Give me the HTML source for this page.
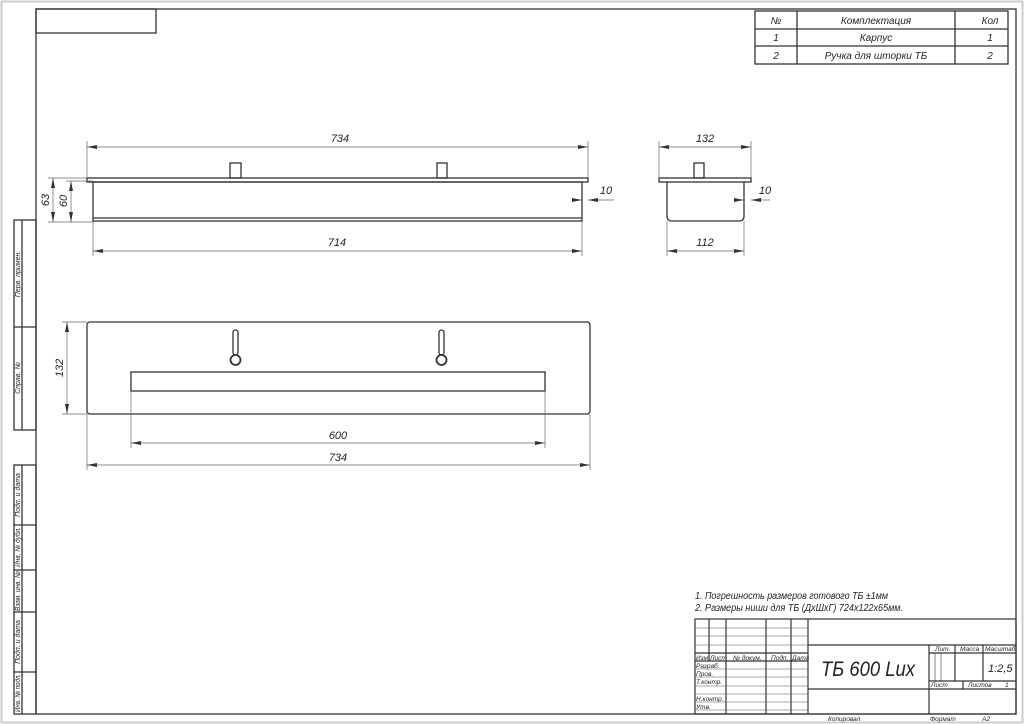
<!DOCTYPE html>
<html><head><meta charset="utf-8"><style>
html,body{margin:0;padding:0;background:#fff}
svg{display:block}
text{font-family:"Liberation Sans","DejaVu Sans",sans-serif;font-style:italic;fill:#222}
</style></head><body>
<svg width="1024" height="724" viewBox="0 0 1024 724" xmlns="http://www.w3.org/2000/svg">
<defs>
<marker id="a" viewBox="0 0 10 4" refX="10" refY="2" markerWidth="10" markerHeight="4" orient="auto-start-reverse" markerUnits="userSpaceOnUse"><path d="M0,0 L10,2 L0,4z" fill="#333"/></marker>
</defs>
<rect x="1.5" y="1.5" width="1021" height="721" fill="none" stroke="#ccc" stroke-width="2"/>
<g fill="none" stroke="#333" stroke-width="1.3">
<rect x="36" y="9" width="980" height="705"/>
<rect x="36" y="9" width="120" height="24"/>
<rect x="14" y="220" width="22" height="210"/>
<line x1="14" y1="327" x2="36" y2="327"/><line x1="22" y1="220" x2="22" y2="430"/>
<rect x="14" y="465" width="22" height="249"/>
<line x1="22" y1="465" x2="22" y2="714"/>
<line x1="14" y1="525" x2="36" y2="525"/><line x1="14" y1="570" x2="36" y2="570"/><line x1="14" y1="612" x2="36" y2="612"/><line x1="14" y1="672" x2="36" y2="672"/>
<rect x="755" y="11" width="253" height="53"/>
<line x1="755" y1="29" x2="1008" y2="29"/><line x1="755" y1="46" x2="1008" y2="46"/>
<line x1="797" y1="11" x2="797" y2="64"/><line x1="955" y1="11" x2="955" y2="64"/>
</g>
<g font-size="10" text-anchor="middle">
<text x="776" y="24">№</text><text x="876" y="24">Комплектация</text><text x="990" y="24">Кол</text>
<text x="776" y="41">1</text><text x="876" y="41">Карпус</text><text x="990" y="41">1</text>
<text x="776" y="59">2</text><text x="876" y="59">Ручка для шторки ТБ</text><text x="990" y="59">2</text>
</g>
<g font-size="7" text-anchor="middle">
<text transform="translate(20,274) rotate(-90)">Перв. примен.</text>
<text transform="translate(20,378) rotate(-90)">Справ. №</text>
<text transform="translate(20,495) rotate(-90)">Подп. и дата</text>
<text transform="translate(20,547) rotate(-90)" textLength="40" lengthAdjust="spacingAndGlyphs">Инв. № дубл.</text>
<text transform="translate(20,591) rotate(-90)" textLength="40" lengthAdjust="spacingAndGlyphs">Взам. инв. №</text>
<text transform="translate(20,642) rotate(-90)">Подп. и дата</text>
<text transform="translate(20,693) rotate(-90)" textLength="38" lengthAdjust="spacingAndGlyphs">Инв. № подл.</text>
</g>
<g fill="none" stroke="#333" stroke-width="1.3">
<rect x="87" y="178" width="501" height="4"/>
<rect x="93" y="182" width="489" height="39"/>
<line x1="93" y1="218" x2="582" y2="218"/>
<rect x="230" y="163" width="11" height="15"/>
<rect x="437" y="163" width="10" height="15"/>
<rect x="659" y="178" width="92" height="4"/>
<path d="M667,182 V216 Q667,221 672,221 H739 Q744,221 744,216 V182"/>
<rect x="694" y="163" width="10" height="15"/>
<rect x="87" y="322" width="503" height="92" rx="3"/>
<rect x="131" y="372" width="414" height="19"/>
<rect x="233" y="330" width="5" height="25" rx="2.5"/>
<circle cx="235.5" cy="360" r="5" stroke-width="1.8"/>
<rect x="439" y="330" width="5" height="25" rx="2.5"/>
<circle cx="441.5" cy="360" r="5" stroke-width="1.8"/>
</g>
<g stroke="#666" stroke-width="0.7" fill="none">
<line x1="87" y1="141" x2="87" y2="178"/><line x1="588" y1="141" x2="588" y2="178"/>
<line x1="87" y1="147" x2="588" y2="147" marker-start="url(#a)" marker-end="url(#a)"/>
<line x1="93" y1="221" x2="93" y2="256"/><line x1="582" y1="221" x2="582" y2="256"/>
<line x1="93" y1="251" x2="582" y2="251" marker-start="url(#a)" marker-end="url(#a)"/>
<line x1="48" y1="178" x2="87" y2="178"/><line x1="48" y1="222" x2="93" y2="222"/>
<line x1="66" y1="181" x2="93" y2="181"/>
<line x1="53" y1="178" x2="53" y2="222" marker-start="url(#a)" marker-end="url(#a)"/>
<line x1="71" y1="181" x2="71" y2="222" marker-start="url(#a)" marker-end="url(#a)"/>
<line x1="575" y1="200" x2="582" y2="200" marker-end="url(#a)"/>
<line x1="614" y1="200" x2="588" y2="200" marker-end="url(#a)"/>
<line x1="659" y1="141" x2="659" y2="178"/><line x1="751" y1="141" x2="751" y2="178"/>
<line x1="659" y1="147" x2="751" y2="147" marker-start="url(#a)" marker-end="url(#a)"/>
<line x1="667" y1="221" x2="667" y2="256"/><line x1="744" y1="221" x2="744" y2="256"/>
<line x1="667" y1="251" x2="744" y2="251" marker-start="url(#a)" marker-end="url(#a)"/>
<line x1="737" y1="200" x2="744" y2="200" marker-end="url(#a)"/>
<line x1="770" y1="200" x2="751" y2="200" marker-end="url(#a)"/>
<line x1="62" y1="322" x2="87" y2="322"/><line x1="62" y1="414" x2="87" y2="414"/>
<line x1="67" y1="322" x2="67" y2="414" marker-start="url(#a)" marker-end="url(#a)"/>
<line x1="131" y1="391" x2="131" y2="448"/><line x1="545" y1="391" x2="545" y2="448"/>
<line x1="131" y1="443" x2="545" y2="443" marker-start="url(#a)" marker-end="url(#a)"/>
<line x1="87" y1="414" x2="87" y2="470"/><line x1="590" y1="414" x2="590" y2="470"/>
<line x1="87" y1="465" x2="590" y2="465" marker-start="url(#a)" marker-end="url(#a)"/>
</g>
<g font-size="11" text-anchor="middle">
<text x="340" y="142">734</text><text x="337" y="246">714</text>
<text transform="translate(49,200) rotate(-90)">63</text>
<text transform="translate(67,201) rotate(-90)">60</text>
<text x="606" y="194">10</text>
<text x="705" y="142">132</text><text x="705" y="246">112</text>
<text x="765" y="194">10</text>
<text transform="translate(63,368) rotate(-90)">132</text>
<text x="338" y="439">600</text><text x="338" y="461">734</text>
</g>
<g font-size="10">
<text x="695" y="599" textLength="193" lengthAdjust="spacingAndGlyphs">1. Погрешность размеров готового ТБ ±1мм</text>
<text x="695" y="611" textLength="208" lengthAdjust="spacingAndGlyphs">2. Размеры ниши для ТБ (ДхШхГ) 724х122х65мм.</text>
</g>
<g fill="none" stroke="#333" stroke-width="1.2">
<rect x="695" y="619" width="321" height="95"/>
<line x1="808" y1="645" x2="1016" y2="645"/>
<line x1="808" y1="689" x2="929" y2="689"/>
<line x1="808" y1="619" x2="808" y2="714"/>
<line x1="929" y1="645" x2="929" y2="714"/>
<line x1="929" y1="653" x2="1016" y2="653"/>
<line x1="929" y1="681" x2="1016" y2="681"/>
<line x1="929" y1="689" x2="1016" y2="689"/>
<line x1="955" y1="645" x2="955" y2="681"/>
<line x1="983" y1="645" x2="983" y2="681"/>
<line x1="963" y1="681" x2="963" y2="689"/>
<line x1="935" y1="653" x2="935" y2="681" stroke-width="0.6"/>
<line x1="941" y1="653" x2="941" y2="681" stroke-width="0.6"/>
<line x1="709" y1="619" x2="709" y2="661"/>
<line x1="726" y1="619" x2="726" y2="714"/>
<line x1="766" y1="619" x2="766" y2="714"/>
<line x1="791" y1="619" x2="791" y2="714"/>
<line x1="695" y1="653" x2="808" y2="653"/>
<line x1="695" y1="661" x2="808" y2="661"/>
</g>
<g stroke="#555" stroke-width="0.6">
<line x1="695" y1="628" x2="808" y2="628"/><line x1="695" y1="636" x2="808" y2="636"/><line x1="695" y1="645" x2="808" y2="645"/>
<line x1="695" y1="669" x2="808" y2="669"/><line x1="695" y1="677" x2="808" y2="677"/><line x1="695" y1="686" x2="808" y2="686"/>
<line x1="695" y1="694" x2="808" y2="694"/><line x1="695" y1="702" x2="808" y2="702"/><line x1="695" y1="710" x2="808" y2="710"/>
</g>
<g font-size="6.5">
<text x="696" y="660">Изм</text><text x="710" y="660">Лист</text><text x="733" y="660">№ докум.</text><text x="771" y="660">Подп.</text><text x="792" y="660">Дата</text>
<text x="696" y="668">Разраб.</text><text x="696" y="676">Пров.</text><text x="696" y="684">Т.контр.</text>
<text x="696" y="701">Н.контр.</text><text x="696" y="709">Утв.</text>
<text x="935" y="651">Лит.</text><text x="960" y="651">Масса</text><text x="985" y="651">Масштаб</text>
<text x="931" y="687">Лист</text><text x="968" y="687">Листов</text><text x="1005" y="687">1</text>
<text x="828" y="721">Копировал</text><text x="930" y="721">Формат</text><text x="982" y="721">A2</text>
</g>
<text x="988" y="672" font-size="11">1:2,5</text>
<text x="868" y="676" font-size="21" text-anchor="middle" textLength="94" lengthAdjust="spacingAndGlyphs">ТБ 600 Lux</text>
</svg>
</body></html>
